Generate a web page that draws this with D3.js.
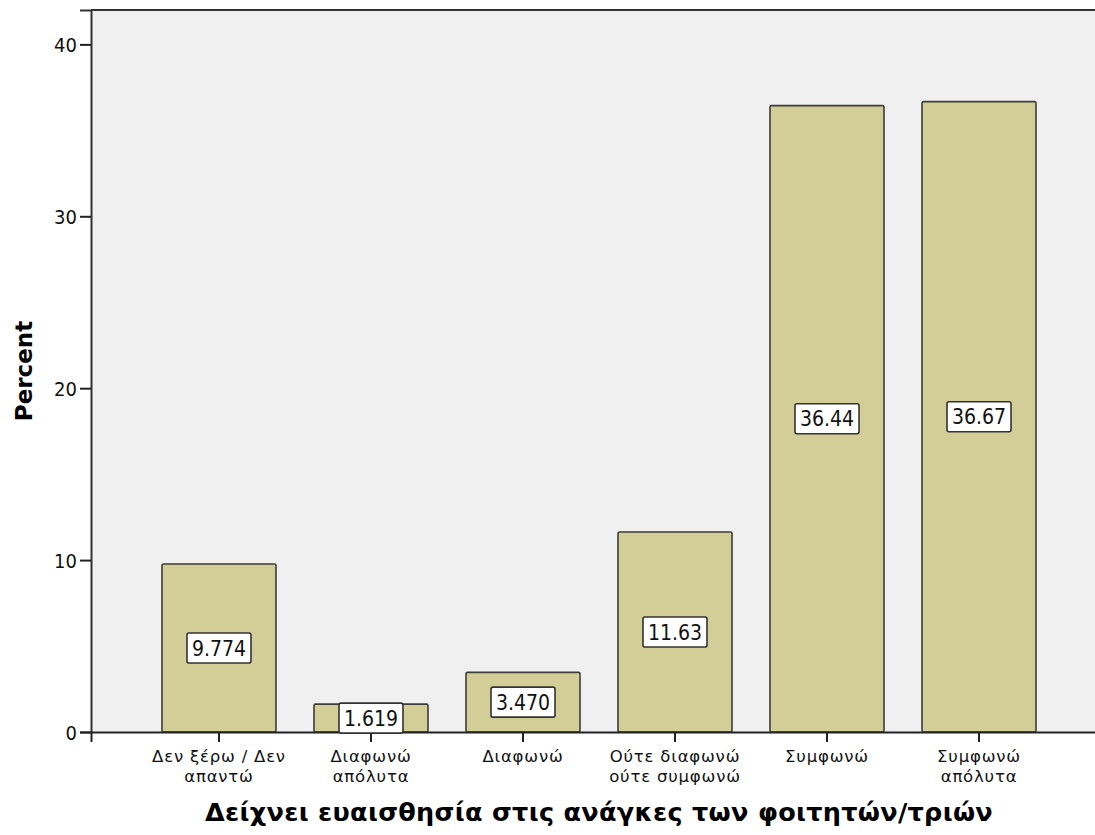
<!DOCTYPE html>
<html>
<head>
<meta charset="utf-8">
<script src="https://cdn.jsdelivr.net/npm/d3@7"></script>
<style>
  html, body { margin: 0; padding: 0; background: #ffffff; }
  svg { display: block; }
</style>
</head>
<body>
<svg id="chart" width="1095" height="835"></svg>
<script>
const categories = [
  "Δεν ξέρω / Δεν\nαπαντώ",
  "Διαφωνώ\nαπόλυτα",
  "Διαφωνώ",
  "Ούτε διαφωνώ\nούτε συμφωνώ",
  "Συμφωνώ",
  "Συμφωνώ\nαπόλυτα"
];
const percentValues = [9.774, 1.619, 3.470, 11.63, 36.44, 36.67];
const yTickValues = [0, 10, 20, 30, 40];
const xAxisTitle = "Δείχνει ευαισθησία στις ανάγκες των φοιτητών/τριών";
const yAxisTitle = "Percent";

const svg = d3.select("#chart");
const plot = { left: 91, right: 1107, top: 10, bottom: 732 };
const condFont = "'DejaVu Sans Condensed', 'DejaVu Sans', sans-serif";
const wideFont = "'DejaVu Sans', sans-serif";

const x = d3.scaleBand()
  .domain(categories)
  .range([plot.left, plot.right])
  .paddingInner(0.25)
  .paddingOuter(0.467);

const y = d3.scaleLinear()
  .domain([0, 42])
  .range([plot.bottom, plot.top]);

// plot background
svg.append("rect")
  .attr("x", plot.left).attr("y", plot.top)
  .attr("width", plot.right - plot.left)
  .attr("height", plot.bottom - plot.top)
  .attr("fill", "#f0f0f0");

// top border
svg.append("line")
  .attr("x1", plot.left).attr("x2", plot.right)
  .attr("y1", plot.top).attr("y2", plot.top)
  .attr("stroke", "#333").attr("stroke-width", 2);

// bars
const data = categories.map((c, i) => ({ c, v: percentValues[i] }));
svg.append("g").selectAll("rect")
  .data(data)
  .join("rect")
  .attr("x", d => x(d.c))
  .attr("y", d => y(d.v))
  .attr("width", x.bandwidth())
  .attr("height", d => y(0) - y(d.v))
  .attr("rx", 1.5)
  .attr("fill", "#d3ce97")
  .attr("stroke", "#3d3d3a")
  .attr("stroke-width", 1.6);

// y axis
const yAxis = d3.axisLeft(y).tickValues(yTickValues).tickSize(11).tickPadding(3).tickFormat(d3.format("d"));
const gy = svg.append("g").attr("transform", `translate(${plot.left},0)`).call(yAxis);
gy.select(".domain").attr("stroke", "#333").attr("stroke-width", 2);
gy.selectAll(".tick line").attr("stroke", "#222").attr("stroke-width", 2);
gy.selectAll(".tick text")
  .attr("font-family", condFont).attr("font-size", 20).attr("fill", "#111")
  .attr("dy", "0.36em");

// x axis
const xAxis = d3.axisBottom(x).tickSize(10).tickFormat("");
const gx = svg.append("g").attr("transform", `translate(0,${plot.bottom})`).call(xAxis);
gx.select(".domain").attr("stroke", "#222").attr("stroke-width", 2);
gx.selectAll(".tick line").attr("stroke", "#222").attr("stroke-width", 2);
gx.selectAll(".tick").each(function(d) {
  const lines = d.split("\n");
  const t = d3.select(this).append("text")
    .attr("font-family", wideFont).attr("font-size", 16.5).attr("fill", "#111")
    .attr("letter-spacing", 0.8)
    .attr("text-anchor", "middle");
  lines.forEach((ln, i) => {
    t.append("tspan").attr("x", 0).attr("y", 30 + i * 19.5).text(ln);
  });
});

// value labels
const fmt = d3.format(".4r");
const lab = svg.append("g").selectAll("g")
  .data(data)
  .join("g")
  .attr("transform", d => `translate(${x(d.c) + x.bandwidth() / 2},${(y(0) + y(d.v)) / 2})`);
lab.append("rect")
  .attr("x", -32).attr("y", -15)
  .attr("width", 64).attr("height", 30)
  .attr("rx", 2)
  .attr("fill", "#ffffff")
  .attr("stroke", "#333").attr("stroke-width", 1.6);
lab.append("text")
  .attr("text-anchor", "middle")
  .attr("dy", "0.36em")
  .attr("font-family", condFont).attr("font-size", 21).attr("fill", "#111")
  .text(d => fmt(d.v));

// axis titles
svg.append("text")
  .attr("x", (plot.left + plot.right) / 2).attr("y", 821)
  .attr("text-anchor", "middle")
  .attr("font-family", wideFont).attr("font-weight", "bold")
  .attr("font-size", 25.5).attr("letter-spacing", 0.3).attr("fill", "#000")
  .text(xAxisTitle);

svg.append("text")
  .attr("transform", `translate(32,${(plot.top + plot.bottom) / 2}) rotate(-90)`)
  .attr("text-anchor", "middle")
  .attr("font-family", wideFont).attr("font-weight", "bold")
  .attr("font-size", 23).attr("fill", "#000")
  .text(yAxisTitle);
</script>
</body>
</html>
